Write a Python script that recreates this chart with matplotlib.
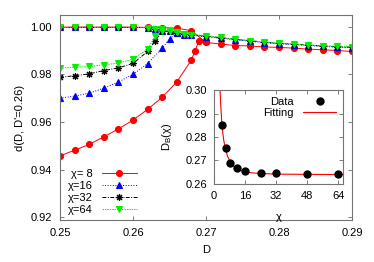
import matplotlib.pyplot as plt
import numpy as np

plt.rcParams['font.family'] = ['Liberation Sans', 'DejaVu Sans']
plt.rcParams['font.size'] = 8
plt.rcParams['mathtext.fontset'] = 'custom'
plt.rcParams['mathtext.rm'] = 'Liberation Sans'
plt.rcParams['mathtext.it'] = 'Liberation Sans:italic'

# ---- data ----
# chi = 8
D8_low = [0.250, 0.252, 0.254, 0.256, 0.258, 0.260, 0.262, 0.264, 0.266, 0.268, 0.2685, 0.269]
d8_low = [0.9458, 0.9482, 0.9506, 0.9538, 0.9571, 0.9608, 0.9653, 0.9704, 0.9768, 0.9860, 0.9900, 0.9938]
D8_top = [0.250, 0.252, 0.254, 0.256, 0.258, 0.260, 0.262, 0.264, 0.266, 0.268]
d8_top = [0.9998, 0.9998, 0.9998, 0.9998, 0.9998, 0.9998, 0.9997, 0.9996, 0.9994, 0.9983]
D8_tail = [0.270, 0.272, 0.274, 0.276, 0.278, 0.280, 0.282, 0.284, 0.286, 0.288, 0.290]
d8_tail = [0.9934, 0.9927, 0.9921, 0.9919, 0.9915, 0.9913, 0.9910, 0.9906, 0.9903, 0.9900, 0.9896]

# common upper branch for chi = 16, 32, 64
D_top = [0.250, 0.252, 0.254, 0.256, 0.258, 0.260, 0.262, 0.263, 0.264, 0.265]
d_top = [0.9997, 0.9997, 0.9997, 0.9997, 0.9997, 0.9997, 0.9996, 0.9990, 0.9983, 0.9981]
D_tail = [0.266, 0.267, 0.268, 0.270, 0.272, 0.274, 0.276, 0.278, 0.280, 0.282, 0.284, 0.286, 0.288, 0.290]
d16_tail = [0.9973, 0.9967, 0.9964, 0.9958, 0.9951, 0.9945, 0.9939, 0.9933, 0.9928, 0.9925, 0.9921, 0.9917, 0.9914, 0.9912]
d32_tail = [0.9975, 0.9969, 0.9966, 0.9960, 0.9954, 0.9947, 0.9941, 0.9935, 0.9930, 0.9927, 0.9923, 0.9919, 0.9916, 0.9914]
d64_tail = [0.9976, 0.9970, 0.9967, 0.9962, 0.9955, 0.9948, 0.9942, 0.9936, 0.9931, 0.9928, 0.9924, 0.9920, 0.9917, 0.9915]

D16_low = [0.250, 0.252, 0.254, 0.256, 0.258, 0.260, 0.262, 0.264, 0.265]
d16_low = [0.9700, 0.9709, 0.9721, 0.9742, 0.9768, 0.9800, 0.9845, 0.9910, 0.9948]
D32_low = [0.250, 0.252, 0.254, 0.256, 0.258, 0.260, 0.262, 0.263, 0.264, 0.265]
d32_low = [0.9788, 0.9794, 0.9802, 0.9816, 0.9827, 0.9846, 0.9896, 0.9940, 0.9980, 0.9980]
D64_low = [0.250, 0.252, 0.254, 0.256, 0.258, 0.260, 0.262, 0.263, 0.264, 0.265]
d64_low = [0.9826, 0.9830, 0.9833, 0.9840, 0.9847, 0.9864, 0.9906, 0.9959, 0.9990, 0.9982]

# inset
chi = [4, 6, 8, 12, 16, 24, 32, 48, 64]
DB = [0.2851, 0.2752, 0.2690, 0.2669, 0.2656, 0.2645, 0.2645, 0.2643, 0.2642]
fit_chi = [3.1, 3.5, 4, 4.5, 5, 6, 7, 8, 10, 12, 14, 16, 20, 24, 32, 48, 66.5]
fit_DB = [0.3000, 0.2930, 0.2865, 0.2820, 0.2787, 0.2745, 0.2718, 0.2699, 0.2676, 0.2664,
          0.2657, 0.2652, 0.2647, 0.2645, 0.2642, 0.2641, 0.2640]

fig = plt.figure(figsize=(3.74, 2.62), dpi=100)
ax = fig.add_axes([60/374, 42/262, 292/374, 205/262])

styles = [
    ('χ= 8', 'red', '-', 'o', 4.3),
    ('χ=16', 'blue', ':', '^', 4.3),
    ('χ=32', 'black', (0, (4, 1.5, 1, 1.5)), (8, 2, 0), 5),
    ('χ=64', '#00ee00', (0, (1.5, 1)), 'v', 4.6),
]
series = [
    (D8_top + D8_tail[:1], d8_top + d8_tail[:1], D8_low + D8_tail, d8_low + d8_tail),
    (D_top + D_tail[:1], d_top + d16_tail[:1], D16_low + D_tail, d16_low + d16_tail),
    (D_top + D_tail[:1], d_top + d32_tail[:1], D32_low + D_tail, d32_low + d32_tail),
    (D_top + D_tail[:1], d_top + d64_tail[:1], D64_low + D_tail, d64_low + d64_tail),
]
for (lab, c, ls, mk, ms), (xt, yt, xl, yl) in zip(styles, series):
    ax.plot(xt, yt, color=c, ls=ls, lw=0.7, marker=mk, ms=ms, mec=c, mfc=c, mew=0.8)
    ax.plot(xl, yl, color=c, ls=ls, lw=0.7, marker=mk, ms=ms, mec=c, mfc=c, mew=0.8, label=lab)

ax.set_xlim(0.25, 0.29)
ax.set_ylim(0.9189, 1.0049)
ax.set_xticks([0.25, 0.26, 0.27, 0.28, 0.29])
ax.set_yticks([0.92, 0.94, 0.96, 0.98, 1.00])
ax.set_xticklabels(['0.25', '0.26', '0.27', '0.28', '0.29'])
ax.set_yticklabels(['0.92', '0.94', '0.96', '0.98', '1.00'])
ax.tick_params(direction='in', top=True, right=True, length=3, width=0.6, color='0.4', pad=6)
for s in ax.spines.values():
    s.set_color('0.45')
    s.set_linewidth(0.8)
ax.set_xlabel('D', labelpad=5)
ax.set_ylabel("d(D, D'=0.26)", labelpad=4)

ax.legend(loc='lower left', bbox_to_anchor=(0.0, -0.015), markerfirst=False, frameon=False,
          handlelength=3.2, labelspacing=0.2, handletextpad=0.8, borderaxespad=0.3, fontsize=8)

# inset
ins = fig.add_axes([214/374, 78/262, 129/374, 94/262])
ins.plot(fit_chi, fit_DB, color='red', lw=0.8, label='Fitting')
ins.plot(chi, DB, 'o', color='black', ms=5, label='Data')
ins.set_xlim(0, 66.5)
ins.set_ylim(0.26, 0.30)
ins.set_xticks([0, 16, 32, 48, 64])
ins.set_yticks([0.26, 0.27, 0.28, 0.29, 0.30])
ins.set_yticklabels(['0.26', '0.27', '0.28', '0.29', '0.30'])
ins.tick_params(direction='in', top=True, right=True, length=3, width=0.6, color='0.4', pad=5)
for s in ins.spines.values():
    s.set_color('0.45')
    s.set_linewidth(0.8)
ins.set_xlabel('χ', labelpad=8)
ins.set_ylabel(r'D$_{\rm B}$(χ)', labelpad=8)
h, l = ins.get_legend_handles_labels()
ins.legend(h[::-1], l[::-1], loc='upper right', markerfirst=False, frameon=False,
           handlelength=3.0, labelspacing=0.1, handletextpad=0.8, borderaxespad=0.2, fontsize=8)

fig.savefig('out.png', dpi=100)
